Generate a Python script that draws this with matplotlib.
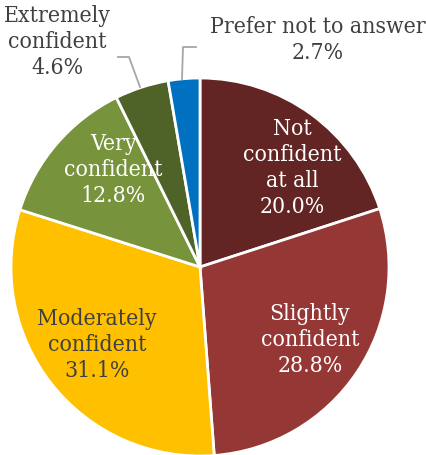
import numpy as np
import matplotlib.pyplot as plt

plt.rc('font', family='DejaVu Serif', size=16.5, stretch='condensed')

labels = ['Not\nconfident\nat all', 'Slightly\nconfident', 'Moderately\nconfident',
          'Very\nconfident', 'Extremely\nconfident', 'Prefer not to answer']
values = [20.0, 28.8, 31.1, 12.8, 4.6, 2.7]
colors = ['#632523', '#953735', '#FFC000', '#77933C', '#4F6228', '#0070C0']
text_colors = ['white', 'white', '#404040', 'white', '#404040', '#404040']

W, H = 427, 456
fig = plt.figure(figsize=(W / 100, H / 100), dpi=100)
ax = fig.add_axes([0, 0, 1, 1])

cx, cy, r = 200, H - 268, 189
wedges, _ = ax.pie(values, colors=colors, startangle=90, counterclock=False,
                   center=(cx, cy), radius=r, frame=True,
                   wedgeprops=dict(edgecolor='white', linewidth=2))
ax.set_xlim(0, W)
ax.set_ylim(0, H)
ax.set_aspect('equal')
ax.axis('off')

# label positions (pixels, image coords)
pos = [(292, 168), (310, 340), (97, 345), (113, 170), (57, 42), (318, 40)]
for lab, v, (x, y), tc in zip(labels, values, pos, text_colors):
    ax.text(x, H - y, '{}\n{:.1f}%'.format(lab, v), ha='center', va='center',
            color=tc, linespacing=1.22)

# leader lines
ax.plot([118, 129, 140], [H - 58, H - 58, H - 88], color='#A6A6A6', lw=1.3)
ax.plot([196, 183, 182], [H - 48, H - 48, H - 80], color='#A6A6A6', lw=1.3)

fig.savefig('out.png', dpi=100)
